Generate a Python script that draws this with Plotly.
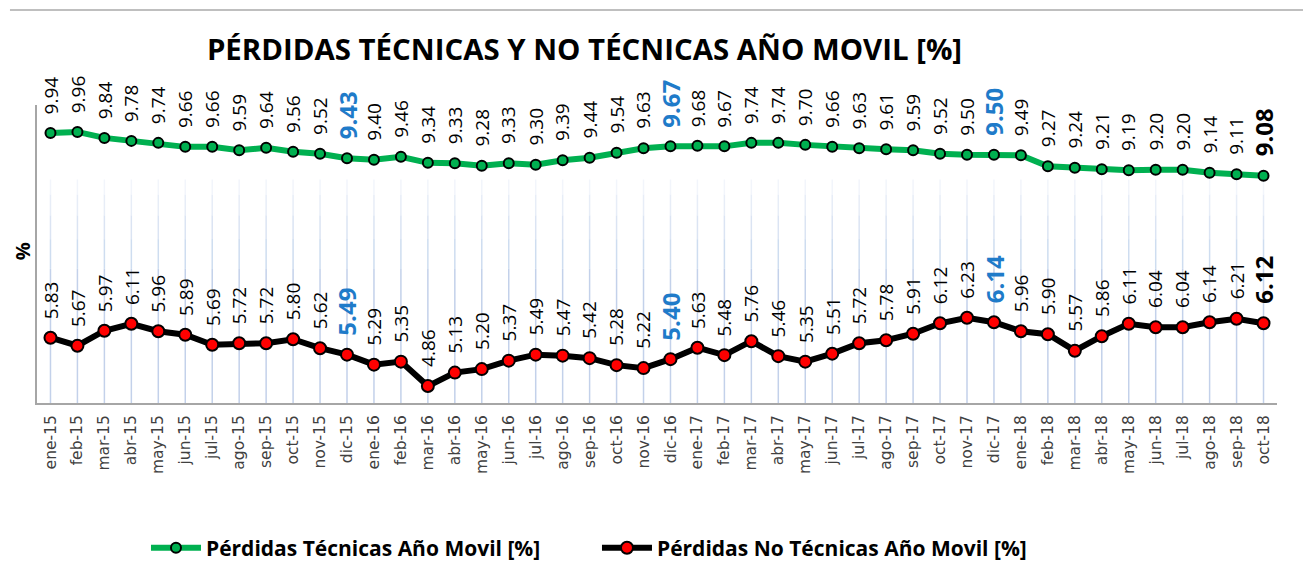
import plotly.graph_objects as go

categories = [
    "ene-15", "feb-15", "mar-15", "abr-15", "may-15", "jun-15", "jul-15", "ago-15", "sep-15", "oct-15", "nov-15", "dic-15",
    "ene-16", "feb-16", "mar-16", "abr-16", "may-16", "jun-16", "jul-16", "ago-16", "sep-16", "oct-16", "nov-16", "dic-16",
    "ene-17", "feb-17", "mar-17", "abr-17", "may-17", "jun-17", "jul-17", "ago-17", "sep-17", "oct-17", "nov-17", "dic-17",
    "ene-18", "feb-18", "mar-18", "abr-18", "may-18", "jun-18", "jul-18", "ago-18", "sep-18", "oct-18",
]

tecnicas = [
    9.94, 9.96, 9.84, 9.78, 9.74, 9.66, 9.66, 9.59, 9.64, 9.56, 9.52, 9.43,
    9.40, 9.46, 9.34, 9.33, 9.28, 9.33, 9.30, 9.39, 9.44, 9.54, 9.63, 9.67,
    9.68, 9.67, 9.74, 9.74, 9.70, 9.66, 9.63, 9.61, 9.59, 9.52, 9.50, 9.50,
    9.49, 9.27, 9.24, 9.21, 9.19, 9.20, 9.20, 9.14, 9.11, 9.08,
]

no_tecnicas = [
    5.83, 5.67, 5.97, 6.11, 5.96, 5.89, 5.69, 5.72, 5.72, 5.80, 5.62, 5.49,
    5.29, 5.35, 4.86, 5.13, 5.20, 5.37, 5.49, 5.47, 5.42, 5.28, 5.22, 5.40,
    5.63, 5.48, 5.76, 5.46, 5.35, 5.51, 5.72, 5.78, 5.91, 6.12, 6.23, 6.14,
    5.96, 5.90, 5.57, 5.86, 6.11, 6.04, 6.04, 6.14, 6.21, 6.12,
]

highlight_blue = ["dic-15", "dic-16", "dic-17"]
highlight_last = ["oct-18"]

name_tec = "Pérdidas Técnicas Año Movil [%]"
name_notec = "Pérdidas No Técnicas Año Movil [%]"
title_text = "PÉRDIDAS TÉCNICAS Y NO TÉCNICAS AÑO MOVIL [%]"

LABEL_FONT = "Open Sans"
BLUE = "#1f7bc9"

fig = go.Figure()

fig.add_trace(go.Scatter(
    x=categories, y=tecnicas, name=name_tec, mode="lines+markers",
    line=dict(color="#00b050", width=6),
    marker=dict(symbol="circle", size=10, color="#00b050", line=dict(color="black", width=2)),
    cliponaxis=False,
))
fig.add_trace(go.Scatter(
    x=categories, y=no_tecnicas, name=name_notec, mode="lines+markers",
    line=dict(color="black", width=6),
    marker=dict(symbol="circle", size=12, color="#ff0000", line=dict(color="black", width=2)),
    cliponaxis=False,
))

annotations = []
for series in (tecnicas, no_tecnicas):
    for cat, val in zip(categories, series):
        if cat in highlight_blue:
            font = dict(family=LABEL_FONT, size=24, color=BLUE, weight="bold")
        elif cat in highlight_last:
            font = dict(family=LABEL_FONT, size=24, color="black", weight="bold")
        else:
            font = dict(family=LABEL_FONT, size=19, color="black")
        annotations.append(dict(
            x=cat, y=val, xref="x", yref="y", text=f"{val:.2f}",
            textangle=-90, showarrow=False, xanchor="center", yanchor="bottom",
            yshift=18, font=font, borderpad=0,
        ))

annotations.append(dict(
    x=-0.012, y=0.51, xref="paper", yref="paper", text="%", textangle=-90,
    showarrow=False, xanchor="center", yanchor="middle",
    font=dict(family=LABEL_FONT, size=20, color="black", weight="bold"),
))

# vertical category gridlines that fade out towards the top
grid_segments = [
    (0.0, 0.45, "#c3d1ea"),
    (0.45, 0.55, "#ceddf0"),
    (0.55, 0.63, "#dbe4f3"),
    (0.63, 0.70, "#e7edf7"),
    (0.70, 0.75, "#f2f5fb"),
]
shapes = []
for cat in categories:
    for y0, y1, col in grid_segments:
        shapes.append(dict(type="line", xref="x", yref="paper", x0=cat, x1=cat,
                           y0=y0, y1=y1, layer="below", line=dict(color=col, width=1.5)))

n = len(categories)
W, H = 1303, 573  # page body has an 8px margin
shapes.append(dict(type="line", xref="paper", yref="paper", x0=-0.0218, x1=1.03,
                   y0=(395 - 2) / 298, y1=(395 - 2) / 298,
                   line=dict(color="#bfbfbf", width=2)))

fig.update_layout(
    width=W, height=H,
    margin=dict(l=29, r=34, t=97, b=178),
    paper_bgcolor="white", plot_bgcolor="white",
    title=dict(text=title_text, x=576.5 / W, xref="container", xanchor="center",
               y=1 - 42 / H, yref="container", yanchor="middle",
               font=dict(family=LABEL_FONT, size=29.4, color="black", weight="bold")),
    xaxis=dict(type="category", range=[-0.5, n - 0.5],
               showgrid=False, showline=True, linecolor="#a6a6a6", linewidth=2,
               ticks="", tickangle=-90, ticklabelstandoff=4,
               tickfont=dict(family="DejaVu Sans", size=15.5, color="#404040")),
    yaxis=dict(range=[4.52, 10.5], showgrid=False,
               showticklabels=False, showline=True, linecolor="#a6a6a6", linewidth=2,
               zeroline=False, ticks=""),
    showlegend=True,
    legend=dict(orientation="h", x=0.4516, xanchor="center", y=-0.487, yanchor="middle",
                itemwidth=50, entrywidth=386, entrywidthmode="pixels",
                font=dict(family=LABEL_FONT, size=21, color="black", weight="bold"),
                bgcolor="rgba(0,0,0,0)"),
    annotations=annotations,
    shapes=shapes,
)

fig.write_html("out.html")
